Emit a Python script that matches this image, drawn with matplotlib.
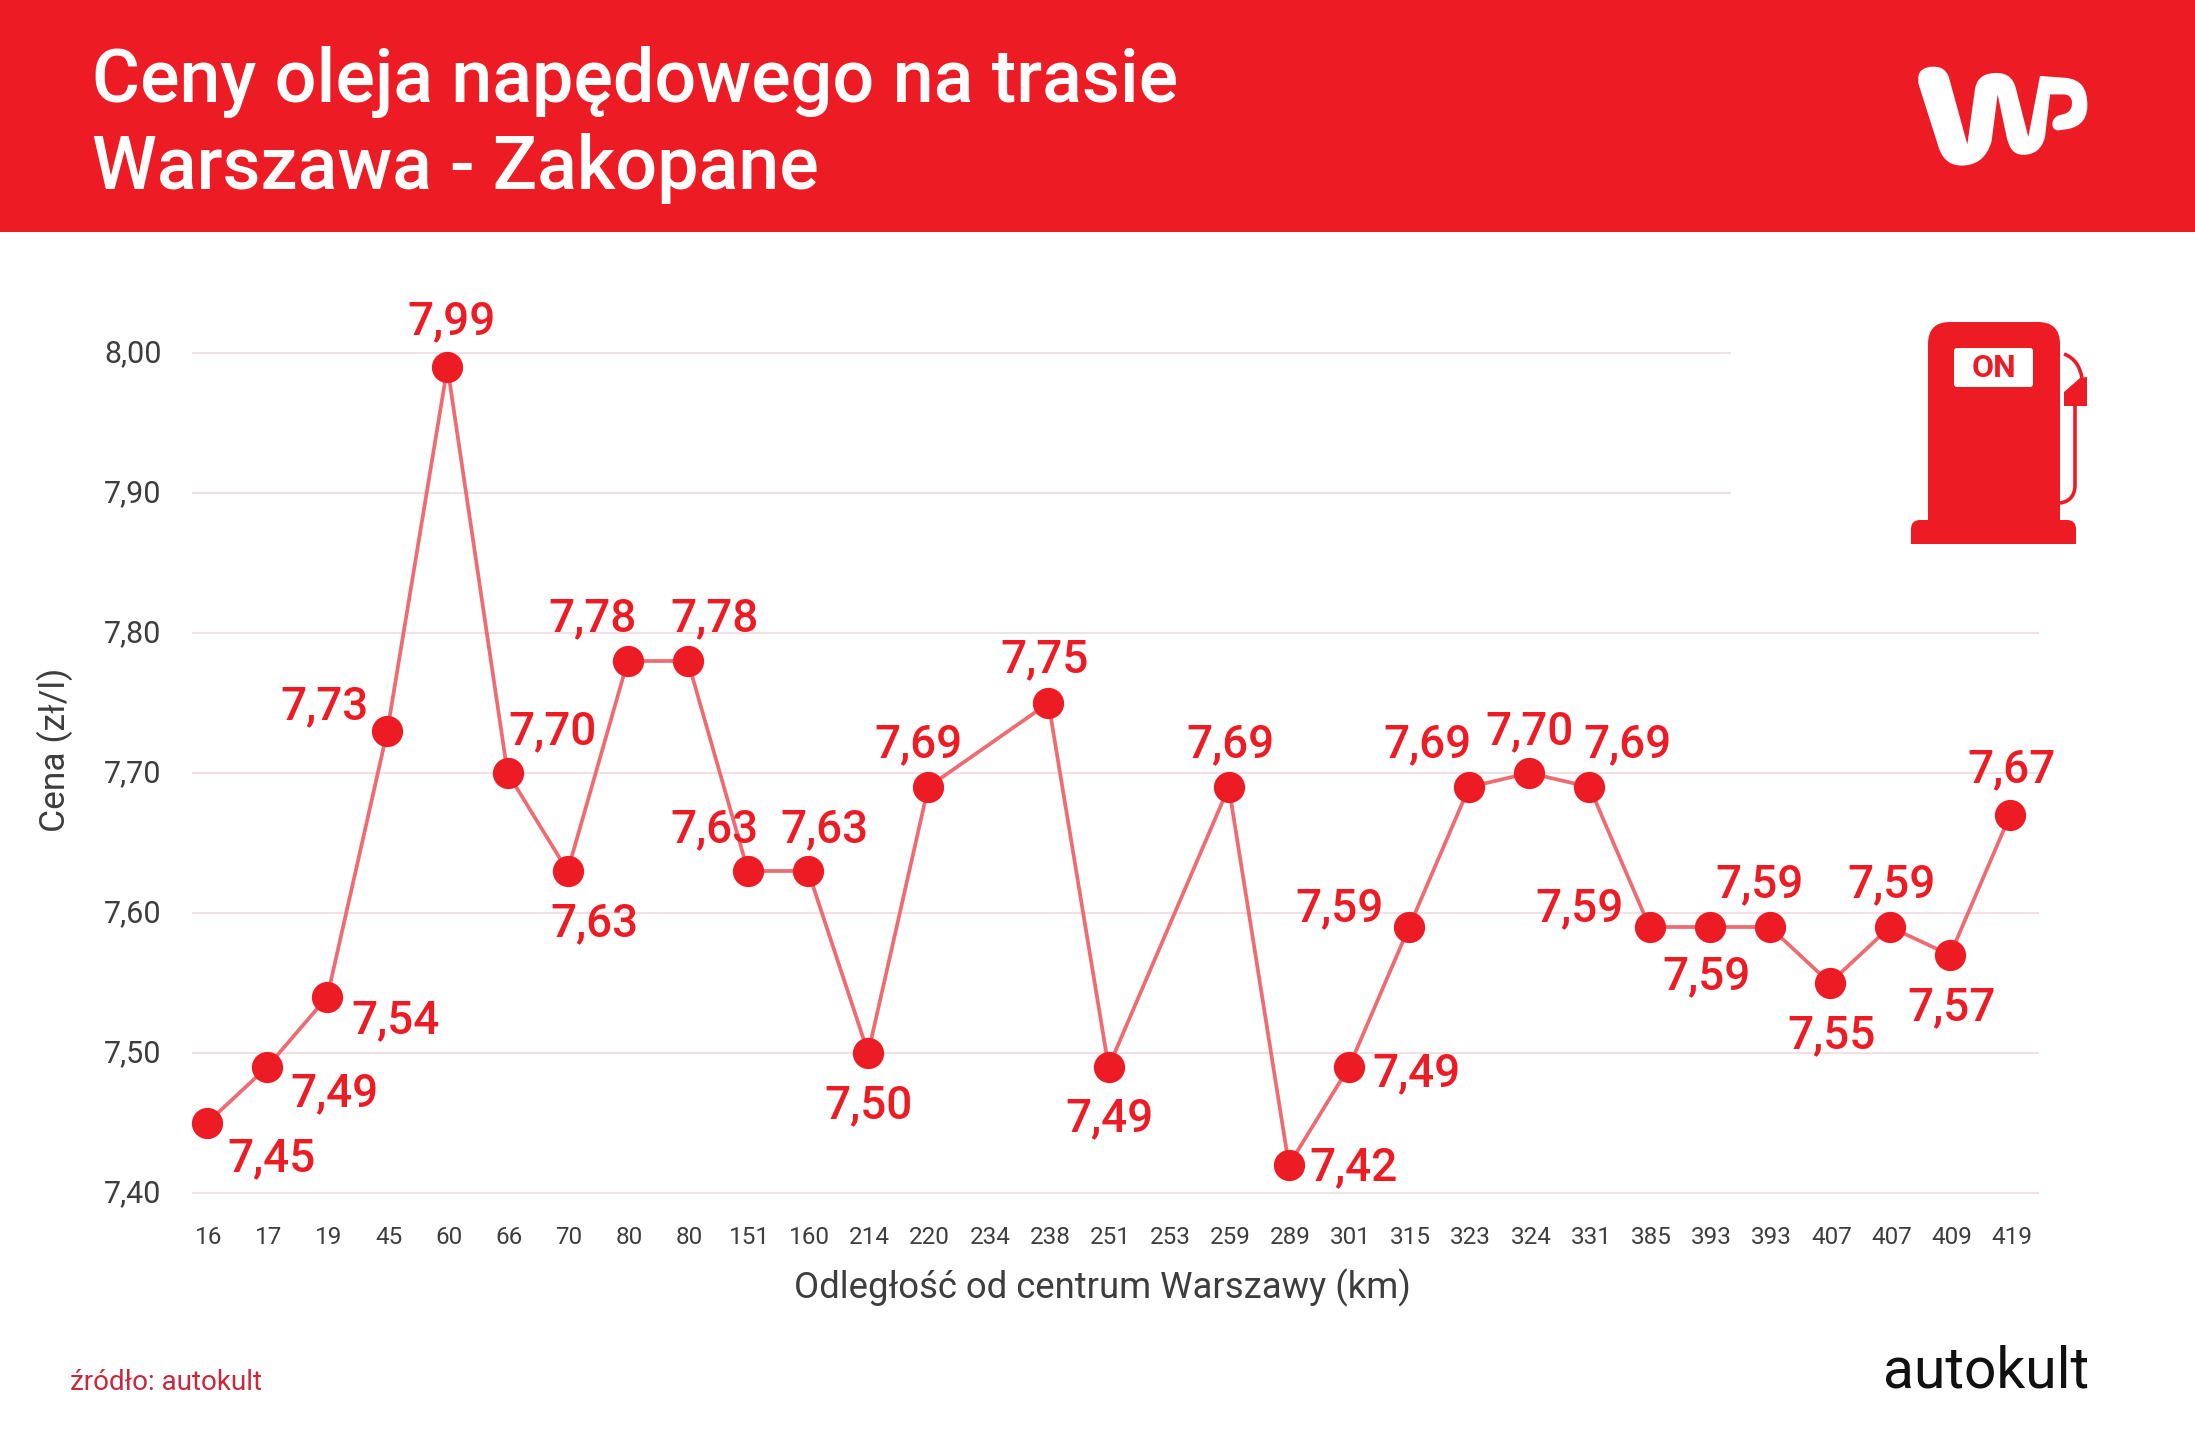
import matplotlib
matplotlib.use('Agg')
import matplotlib.pyplot as plt
from matplotlib.patches import Rectangle, FancyBboxPatch, PathPatch, Polygon
from matplotlib.path import Path
from matplotlib.transforms import ScaledTranslation

plt.rcParams['font.family'] = ['Roboto', 'DejaVu Sans']

W, H = 2195, 1440
RED = '#ed1c24'
LINE = '#ef6b72'
GRID = '#f1e0e4'
DARK = '#3d3d3d'

km = ['16', '17', '19', '45', '60', '66', '70', '80', '80', '151', '160', '214', '220', '234', '238', '251',
      '253', '259', '289', '301', '315', '323', '324', '331', '385', '393', '393', '407', '407', '409', '419']
price = [7.45, 7.49, 7.54, 7.73, 7.99, 7.70, 7.63, 7.78, 7.78, 7.63, 7.63, 7.50, 7.69, None, 7.75, 7.49,
         None, 7.69, 7.42, 7.49, 7.59, 7.69, 7.70, 7.69, 7.59, 7.59, 7.59, 7.55, 7.59, 7.57, 7.67]
yticks = [7.40, 7.50, 7.60, 7.70, 7.80, 7.90, 8.00]

# label offset from its point, in pixels of the 1568 wide preview
offsets = [(46, 24), (48, 17), (49, 15), (-45, -19), (3, -34), (32, -31), (19, 36), (-25, -32), (19, -32),
           (-24, -31), (12, -31), (0, 36), (-7, -32), None, (-3, -33), (1, 35), None, (1, -32), (46, 0),
           (48, 3), (-50, -15), (-30, -32), (0, -31), (27, -32), (-50, -15), (-2, 34), (-7, -32), (1, 36),
           (1, -32), (1, 36), (1, -34)]

fig = plt.figure(figsize=(W / 100, H / 100), dpi=100, facecolor='white')

# page layer in pixel coordinates: header, logos, pump
bg = fig.add_axes([0, 0, 1, 1])
bg.set_xlim(0, W)
bg.set_ylim(H, 0)
bg.axis('off')
bg.add_patch(Rectangle((0, 0), W, 232, color=RED, lw=0))
bg.text(92, 82, 'Ceny oleja napędowego na trasie', color='white', fontsize=53, fontweight='medium', va='center')
bg.text(92, 168, 'Warszawa - Zakopane', color='white', fontsize=53, fontweight='medium', va='center')


def zx(x):
    return 1850 + x / 3


def zy(y):
    return y / 2.7


M, L, C = Path.MOVETO, Path.LINETO, Path.CURVE4
wp = [(M, (205, 210)), (C, (205, 190)), (C, (225, 180)), (C, (250, 180)), (C, (275, 180)), (C, (290, 190)), (C, (297, 210)),
      (L, (352, 390)), (L, (375, 240)), (C, (382, 205)), (C, (410, 197)), (C, (440, 197)), (C, (470, 197)), (C, (490, 210)), (C, (498, 240)),
      (L, (535, 370)), (L, (570, 205)), (L, (645, 210)), (C, (695, 214)), (C, (712, 240)), (C, (712, 285)), (C, (712, 330)), (C, (680, 347)), (C, (640, 350)),
      (L, (625, 352)), (C, (600, 352)), (C, (602, 320)), (C, (625, 312)), (L, (645, 307)), (C, (665, 300)), (C, (668, 285)), (C, (665, 270)), (C, (660, 257)), (C, (650, 255)), (C, (640, 255)),
      (L, (600, 255)), (L, (585, 370)), (C, (575, 405)), (C, (550, 418)), (C, (520, 418)), (C, (490, 418)), (C, (478, 400)), (C, (470, 370)),
      (L, (443, 255)), (L, (425, 380)), (C, (410, 430)), (C, (375, 447)), (C, (335, 447)), (C, (295, 447)), (C, (275, 425)), (C, (265, 395)),
      (L, (205, 225)), (Path.CLOSEPOLY, (205, 210))]
bg.add_patch(PathPatch(Path([(zx(p[0]), zy(p[1])) for _, p in wp], [c for c, _ in wp]), fc='white', ec='none'))

# fuel pump
bg.add_patch(FancyBboxPatch((1928 + 22, 322 + 22), 132 - 44, 150, boxstyle='round,pad=22,rounding_size=22', fc=RED, ec='none'))
bg.add_patch(Rectangle((1928, 480), 132, 50, fc=RED, lw=0))
bg.add_patch(FancyBboxPatch((1911 + 9, 520 + 9), 165 - 18, 6, boxstyle='round,pad=9,rounding_size=9', fc=RED, ec='none'))
bg.add_patch(Rectangle((1911, 532), 165, 12, fc=RED, lw=0))
bg.add_patch(FancyBboxPatch((1957, 351), 73, 33, boxstyle='round,pad=3,rounding_size=3', fc='white', ec='none'))
bg.text(1994, 368, 'ON', color=RED, fontsize=23, fontweight='bold', ha='center', va='center')
bg.add_patch(Polygon([(2064, 392), (2080, 378), (2087, 377), (2087, 406), (2064, 406)], fc=RED, ec='none'))
hose = Path([(2064, 354), (2075, 358), (2080, 367), (2082, 378)], [M, C, C, C])
bg.add_patch(PathPatch(hose, fc='none', ec=RED, lw=2.6))
tube = Path([(2075, 405), (2075, 485), (2075, 497), (2068, 502), (2060, 503)], [M, L, C, C, C])
bg.add_patch(PathPatch(tube, fc='none', ec=RED, lw=2.6))

bg.text(55, 750, 'Cena (zł/l)', color=DARK, fontsize=25.5, rotation=90, ha='center', va='center')
bg.text(1102, 1288, 'Odległość od centrum Warszawy (km)', color=DARK, fontsize=26.3, ha='center', va='center')
bg.text(70, 1382, 'źródło: autokult', color='#c8283a', fontsize=20, va='center')
bg.text(1883, 1372, 'autokult', color='#111111', fontsize=41, va='center')

# chart layer
ax = fig.add_axes([192 / W, 1 - 1193 / H, (2039 - 192) / W, (1193 - 353) / H])
ax.patch.set_alpha(0)
ax.set_xlim(-0.25, 30.48)
ax.set_ylim(7.40, 8.00)
for s in ax.spines.values():
    s.set_visible(False)

for v in yticks:
    # top two rules stop short of the pump
    ax.hlines(v, -0.25, 25.35 if v > 7.85 else 30.48, color=GRID, lw=1.5, clip_on=False, zorder=1)

xs = [i for i, v in enumerate(price) if v is not None]
ys = [v for v in price if v is not None]
ax.plot(xs, ys, color=LINE, lw=2.7, zorder=2, clip_on=False)
ax.plot(xs, ys, ls='none', marker='o', ms=22.5, mfc=RED, mec='none', zorder=3, clip_on=False)

for i, v in enumerate(price):
    if v is None:
        continue
    dx, dy = offsets[i]
    ax.annotate(f'{v:.2f}'.replace('.', ','), (i, v), xytext=(dx * 1.4 * 0.72, -(dy + 1.5) * 1.4 * 0.72),
                textcoords='offset points', ha='center', va='center', color=RED, fontsize=33, fontweight='medium', zorder=4)

ax.set_xticks(range(len(km)))
ax.set_xticklabels(km, fontsize=17.5, color=DARK)
ax.set_yticks(yticks)
ax.set_yticklabels([f'{v:.2f}'.replace('.', ',') for v in yticks], fontsize=22, color=DARK)
ax.tick_params(axis='x', length=0, pad=24)
ax.tick_params(axis='y', length=0, pad=22)
up = ScaledTranslation(0, 2.5 / 100, fig.dpi_scale_trans)
for lab in ax.get_yticklabels():
    lab.set_transform(lab.get_transform() + up)
right = ScaledTranslation(1.5 / 100, 0, fig.dpi_scale_trans)
for lab in ax.get_xticklabels():
    lab.set_transform(lab.get_transform() + right)

fig.savefig('out.png', dpi=100)
